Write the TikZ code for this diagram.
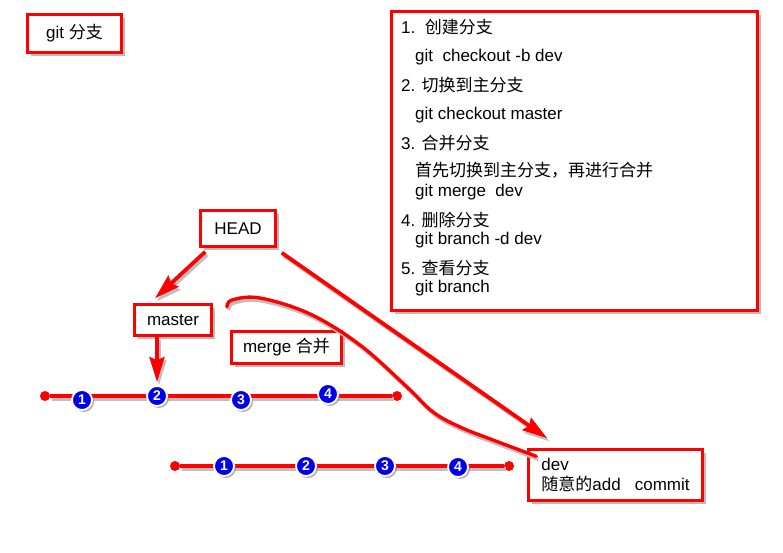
\documentclass[tikz,border=0pt]{standalone}
\usepackage{fontspec}
\setmainfont{Liberation Sans}
\newfontfamily\cjk{Noto Sans CJK SC}
\newcommand{\zh}[1]{{\cjk #1}}
\usepackage{tikz}
\usetikzlibrary{arrows.meta,shadows}
\definecolor{commitblue}{RGB}{0,0,235}

\tikzset{
  box/.style={draw=red, line width=2.5pt, fill=white,
    drop shadow={shadow xshift=3pt, shadow yshift=-3pt, fill=black!45, opacity=0.6}},
  cmdline/.style={anchor=base west, inner sep=0pt},
  lineshadow/.style={preaction={draw=black!25, line width=3.5pt,
    transform canvas={xshift=2pt,yshift=-3pt}}},
  branch/.style={draw=red, line width=3.4pt, lineshadow},
  arr/.style={draw=red, line width=3.8pt, lineshadow,
    -{Stealth[length=25pt,width=15pt,inset=3pt]}},
  enddot/.style={circle, fill=red, inner sep=0pt, minimum size=10pt},
  commit/.style={circle, fill=commitblue, draw=white, line width=1.8pt,
    minimum size=20pt, inner sep=0pt, text=white,
    font=\fontsize{14}{14}\selectfont\bfseries,
    drop shadow={shadow xshift=2pt, shadow yshift=-2pt, fill=black!50, opacity=0.6}}
}

\begin{document}
\begin{tikzpicture}[x=1pt, y=-1pt, font=\fontsize{17}{20}\selectfont]
\useasboundingbox (0,0) rectangle (783,552);

% title
\node[box, minimum width=94pt, minimum height=38pt] (title) at (74.5,33.5) {git \zh{分支}};

% command list
\node[box, minimum width=366pt, minimum height=299pt] (cmds) at (574.5,161) {};
\node[cmdline] (s1) at (401,33) {1.\ \ \zh{创建分支}};
\node[cmdline] (g1) at (415,61.5) {git\ \ checkout -b dev};
\node[cmdline] (s2) at (401,91) {2. \zh{切换到主分支}};
\node[cmdline] (g2) at (415,119) {git checkout master};
\node[cmdline] (s3) at (401,149) {3. \zh{合并分支}};
\node[cmdline] (n3) at (415,176) {\zh{首先切换到主分支，再进行合并}};
\node[cmdline] (g3) at (415,196) {git merge\ \ dev};
\node[cmdline] (s4) at (401,226) {4. \zh{删除分支}};
\node[cmdline] (g4) at (415,244.5) {git branch -d dev};
\node[cmdline] (s5) at (401,274) {5. \zh{查看分支}};
\node[cmdline] (g5) at (415,292) {git branch};

% pointers
\node[box, minimum width=75pt, minimum height=36pt] (head) at (238,228.5) {HEAD};
\node[box, minimum width=77pt, minimum height=31pt] (master) at (173,320) {master};
\node[box, minimum width=110pt, minimum height=32pt] (merge) at (286.5,347.5) {merge \zh{合并}};
\node[box, minimum width=174pt, minimum height=51pt, align=left] (dev) at (615.5,475)
  {dev\\\zh{随意的}add\ \ \ commit};

% master branch
\node[enddot] (m0) at (45,396) {};
\node[enddot] (m5) at (397,396) {};
\draw[branch] (m0) -- (m5);
\node[commit] (c1) at (82,400) {1};
\node[commit] (c2) at (157,396) {2};
\node[commit] (c3) at (241,400) {3};
\node[commit] (c4) at (328,394) {4};

% dev branch
\node[enddot] (d0) at (175,466) {};
\node[enddot] (d5) at (509,466) {};
\draw[branch] (d0) -- (d5);
\node[commit] (d1) at (224,466) {1};
\node[commit] (d2) at (306,466) {2};
\node[commit] (d3) at (385,466) {3};
\node[commit] (d4) at (458,467) {4};

% arrows
\draw[arr] ([xshift=6pt,yshift=-4pt]head.south west) -- ([xshift=-18pt,yshift=5pt]master.north);
\draw[arr] (master.south -| c2) -- ([yshift=3pt]c2.north);
\draw[arr] ([xshift=5pt,yshift=-5pt]head.south east) -- ([xshift=20pt,yshift=10pt]dev.north west);

% merge curve
\coordinate (mstart) at (227,307);
\draw[branch, line cap=round] plot[smooth, tension=0.6] coordinates {(mstart) (232,300) (260,298)
  (310,314) (360,345) (407,387) (433,412) (460,427) (493,440) ([xshift=9pt,yshift=-8pt]dev.north west)};
\end{tikzpicture}
\end{document}
